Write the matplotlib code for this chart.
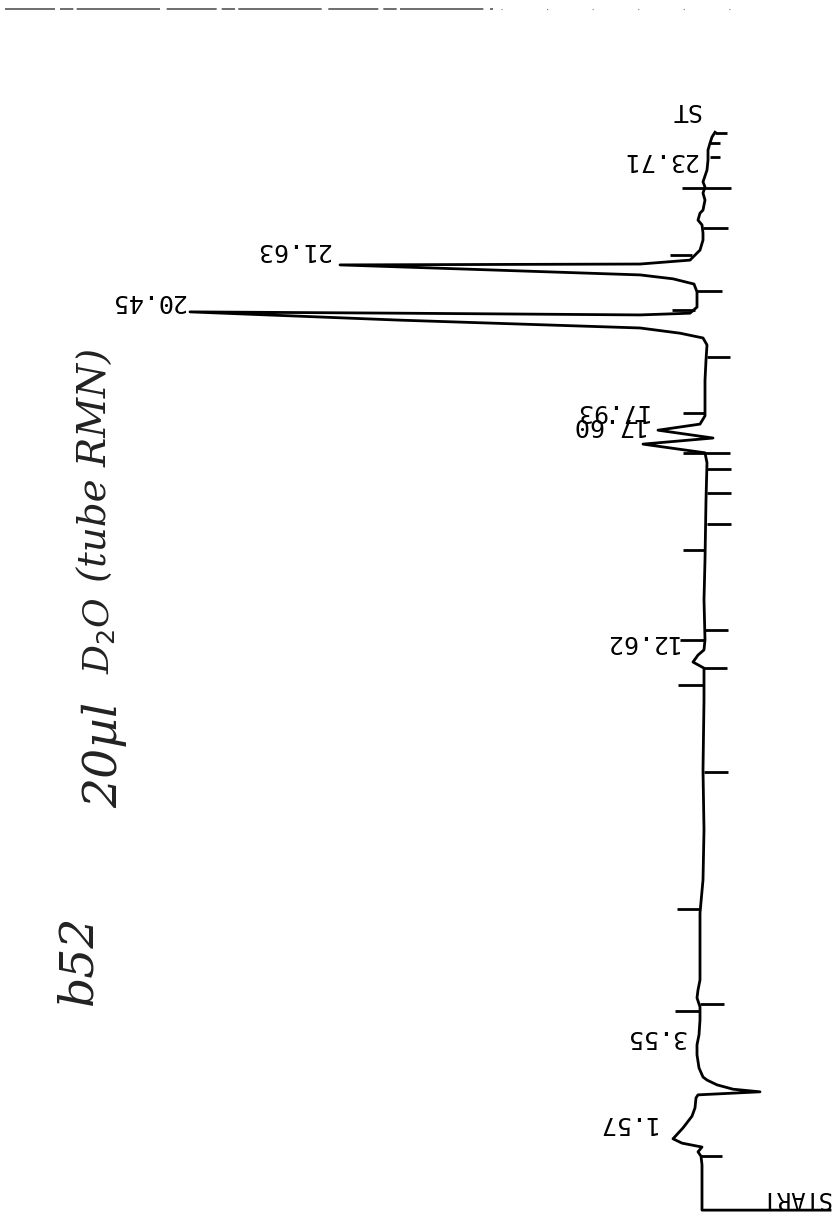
import matplotlib
matplotlib.use('Agg')
import matplotlib.pyplot as plt
from matplotlib.lines import Line2D

# chromatogram trace (time in min, detector response in arbitrary units)
time_min = [-0.44, -0.44, 0.60, 0.80, 0.90, 1.01, 1.10, 1.20, 1.45, 1.72, 1.91, 2.14, 2.21, 2.28, 2.34,
            2.44, 2.55, 2.62, 2.83, 3.13, 3.36, 3.59, 3.93, 4.23, 4.44, 4.62, 4.85, 6.39, 7.15, 8.30,
            9.68, 11.29, 12.02, 12.16, 12.32, 12.44, 12.67, 13.59, 14.51, 15.89, 16.74, 16.97, 17.17,
            17.31, 17.49, 17.63, 17.82, 18.64, 19.10, 19.45, 19.61, 19.72, 19.84, 20.02, 20.21, 20.18,
            20.14, 20.18, 20.32, 20.67, 20.85, 20.97, 21.06, 21.29, 21.31, 21.40, 21.63, 21.86, 22.02,
            22.21, 22.32, 22.48, 22.55, 22.78, 22.94, 23.08, 23.20, 23.47, 23.70, 23.93, 24.09, 24.23,
            24.34]
signal = [-125, 3, 3, 4, 7, 3, 23, 32, 22, 13, 10, 9, 7, -55, -28,
          -12, -2, 2, 6, 8, 8, 6, 5, 5, 8, 7, 5, 5, 2, 1,
          2, 1, 1, 12, 7, 1, 0, 1, 0, -1, -2, 0, 62,
          -8, 47, 5, 0, 0, -1, -2, 2, 25, 65, 305, 515, 305,
          65, 15, 8, 8, 11, 32, 65, 365, 65, 15, 5, 2, 2,
          3, 7, 5, 2, 0, 2, 0, 2, -2, -3, -3, -5, -7,
          -10]

# integration event marks (time, from, to)
event_time = [0.80, 4.14, 4.30, 6.48, 9.63, 11.63, 12.02, 12.67, 12.90, 14.74, 15.33, 16.05,
              16.60, 16.97, 17.89, 19.17, 20.25, 20.69, 21.52, 22.14, 23.06, 23.77, 24.09, 24.32]
event_from = [5, 30, 5, 28, 1, 27, 1, 25, 1, 22, -2, -2,
              -2, 22, 22, -2, 33, 8, 35, 2, 23, -5, -5, -10]
event_to = [-17, 5, -19, 5, -23, 2, -22, 1, -23, 0, -26, -26,
            -26, -25, 0, -25, 10, -17, 13, -23, -26, -15, -15, -22]

# printed retention times
peak_labels = ['1.57', '3.55', '12.62', '17.60', '17.93', '20.45', '21.63', '23.71']
peak_times = [1.57, 3.55, 12.62, 17.60, 17.93, 20.45, 21.63, 23.71]
label_edge = [50, 20, 28, 62, 58, 520, 375, 8]

fig = plt.figure(figsize=(8.35, 12.16), dpi=100)
ax = fig.add_axes([0, 0, 1, 1])
ax.set_xlim(705, -130)
ax.set_ylim(-0.575, 27.38)
ax.axis('off')

ax.plot(signal, time_min, color='black', lw=2.0, solid_joinstyle='round')
ax.hlines(event_time, event_from, event_to, color='black', lw=2.0)

mono = 'DejaVu Sans Mono'
for lab, t, e in zip(peak_labels, peak_times, label_edge):
    ax.text(e, t, lab, rotation=180, ha='right', va='center', fontsize=18, family=mono)
ax.text(5, 24.85, 'ST', rotation=180, ha='right', va='center', fontsize=18, family=mono)
ax.text(-125, -0.44, 'START', rotation=180, ha='right', va='bottom', fontsize=17, family=mono)

# handwritten note
hand = dict(rotation=90, ha='center', va='center', family='DejaVu Serif', style='italic',
            color='#222222', fontweight='light')
fig.text(0.095, 1 - 960 / 1216, 'b52', fontsize=34, **hand)
fig.text(0.125, 1 - 755 / 1216, '20µl', fontsize=34, **hand)
fig.text(0.118, 1 - 635 / 1216, 'D$_2$O', fontsize=26, **hand)
fig.text(0.115, 1 - 465 / 1216, '(tube RMN)', fontsize=28, **hand)

# scanner edge at the top
fig.add_artist(Line2D([0.006, 0.59], [0.9926, 0.9926], color='#555555', lw=1.2,
                      linestyle=(0, (30, 3, 8, 2, 50, 4))))
fig.add_artist(Line2D([0.6, 0.88], [0.9926, 0.9926], color='#777777', lw=0.8,
                      linestyle=(0, (1, 40))))

plt.savefig('out.png', dpi=100)
